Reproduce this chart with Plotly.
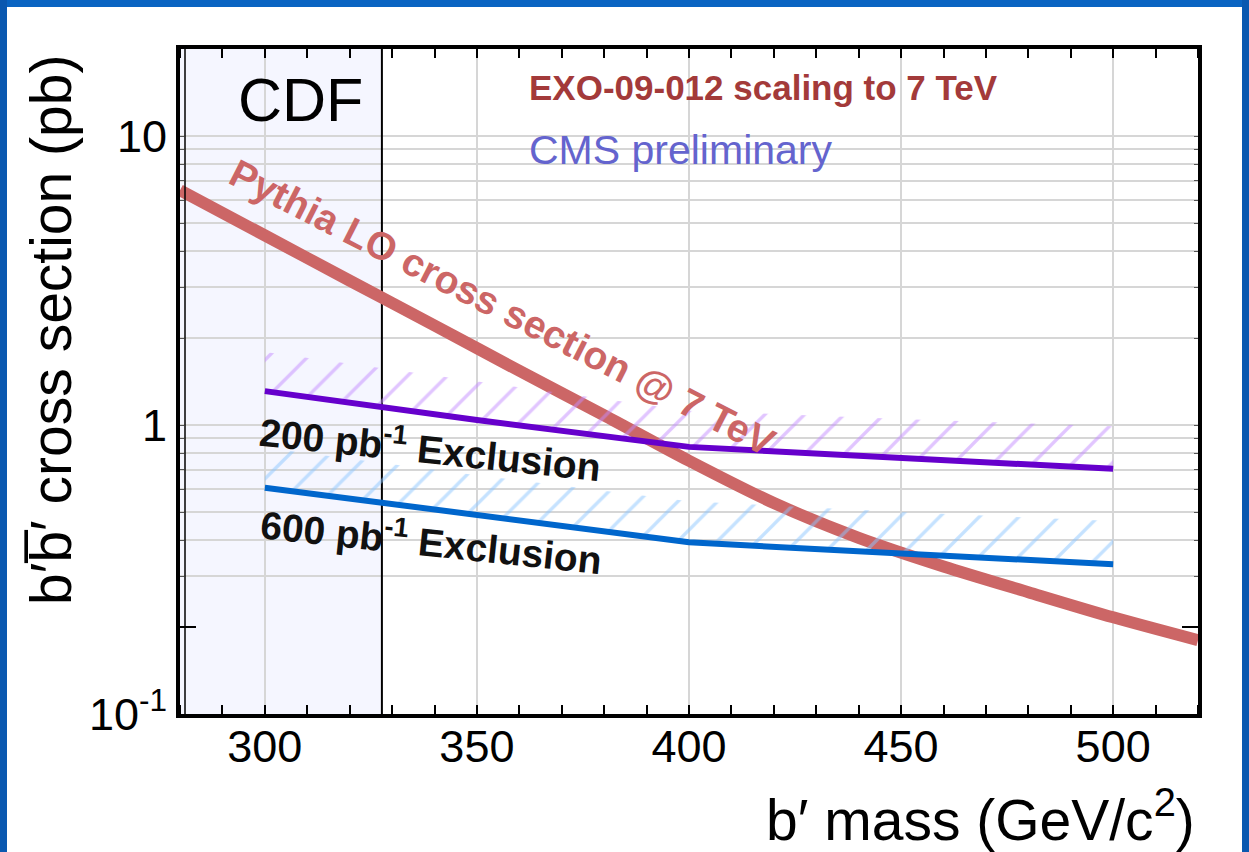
import numpy as np
import plotly.graph_objects as go

# ---------------- data ----------------
mass_pythia = [280, 300, 320, 340, 360, 380, 400, 420, 440, 460, 480, 500, 520]
xsec_pythia = [6.49, 4.53, 3.16, 2.21, 1.54, 1.08, 0.752, 0.537, 0.407, 0.324, 0.264, 0.216, 0.180]

mass_excl = [300, 350, 400, 450, 500]
xsec_200 = [1.31, 1.04, 0.84, 0.77, 0.705]
xsec_200_band = [1.79, 1.42, 1.12, 1.05, 0.99]
xsec_600 = [0.607, 0.49, 0.393, 0.359, 0.33]
xsec_600_band = [0.835, 0.67, 0.545, 0.50, 0.465]

cdf_limit = 327.6
x_range = [280, 520]
y_range = [0.1, 20]

x_tick_vals = [300, 350, 400, 450, 500]
y_tick_vals = [0.1, 0.3, 0.4, 0.5, 0.6, 0.7, 0.8, 0.9, 1, 2, 3, 4, 5, 6, 7, 8, 9, 10]
y_tick_labels = {0.1: "10<sup>-1</sup>", 1: "1", 10: "10"}

# ---------------- styles ----------------
RED = "#CC6666"
PURPLE = "#6600CC"
BLUE = "#0066CC"
HATCH_P = "#C48CFF"
HATCH_B = "#8CC6FF"
FONT = "Liberation Sans, Arial, sans-serif"

fig = go.Figure()

# CDF excluded-region boundary line
fig.add_trace(go.Scatter(x=[cdf_limit, cdf_limit], y=y_range, mode="lines",
                         line=dict(color="black", width=2), hoverinfo="skip", showlegend=False))

# Pythia LO cross section
fig.add_trace(go.Scatter(x=mass_pythia, y=xsec_pythia, mode="lines",
                         line=dict(color=RED, width=12, shape="spline", smoothing=0.8),
                         showlegend=False))

# 200 pb-1 exclusion with hatch band
fig.add_trace(go.Scatter(x=mass_excl, y=xsec_200_band, mode="lines",
                         line=dict(width=0, color="rgba(0,0,0,0)"), showlegend=False, hoverinfo="skip"))
fig.add_trace(go.Scatter(x=mass_excl, y=xsec_200, mode="lines", fill="tonexty",
                         fillcolor="rgba(0,0,0,0)",
                         fillpattern=dict(shape="/", size=28, solidity=0.12, fgcolor=HATCH_P,
                                          bgcolor="rgba(0,0,0,0)"),
                         line=dict(color=PURPLE, width=6), showlegend=False))

# 600 pb-1 exclusion with hatch band
fig.add_trace(go.Scatter(x=mass_excl, y=xsec_600_band, mode="lines",
                         line=dict(width=0, color="rgba(0,0,0,0)"), showlegend=False, hoverinfo="skip"))
fig.add_trace(go.Scatter(x=mass_excl, y=xsec_600, mode="lines", fill="tonexty",
                         fillcolor="rgba(0,0,0,0)",
                         fillpattern=dict(shape="/", size=28, solidity=0.12, fgcolor=HATCH_B,
                                          bgcolor="rgba(0,0,0,0)"),
                         line=dict(color=BLUE, width=6), showlegend=False))

# ---------------- layout geometry ----------------
L, R, T, B = 180, 51, 49, 138
W, H = 1249, 852
pw, ph = W - L - R, H - T - B


def px2paper_x(px):
    return (px - L) / pw


def px2paper_y(py):
    return (H - B - py) / ph


ylog0, ylog1 = np.log10(y_range[0]), np.log10(y_range[1])
y02 = (np.log10(0.2) - ylog0) / (ylog1 - ylog0)

shapes = [
    # CDF shaded region
    dict(type="rect", xref="x", yref="paper", x0=x_range[0], x1=cdf_limit, y0=0, y1=1,
         fillcolor="#F5F6FF", line=dict(width=0), layer="below"),
    # inner thin left line (double border)
    dict(type="line", xref="paper", yref="paper", x0=px2paper_x(185), x1=px2paper_x(185), y0=0, y1=1,
         line=dict(color="black", width=1.5)),
    # long ticks at 0.2
    dict(type="line", xref="paper", yref="paper", x0=0, x1=px2paper_x(196), y0=y02, y1=y02,
         line=dict(color="black", width=2)),
    dict(type="line", xref="paper", yref="paper", x0=1, x1=px2paper_x(1182), y0=y02, y1=y02,
         line=dict(color="black", width=2)),
    # blue slide frame
    dict(type="rect", xref="paper", yref="paper", x0=px2paper_x(0), x1=px2paper_x(W),
         y0=px2paper_y(7), y1=px2paper_y(0), fillcolor="#0A64C2", line=dict(width=0), layer="below"),
    dict(type="rect", xref="paper", yref="paper", x0=px2paper_x(0), x1=px2paper_x(7),
         y0=px2paper_y(H), y1=px2paper_y(0), fillcolor="#0A58B0", line=dict(width=0), layer="below"),
    dict(type="rect", xref="paper", yref="paper", x0=px2paper_x(1242), x1=px2paper_x(W),
         y0=px2paper_y(H), y1=px2paper_y(0), fillcolor="#0A58B0", line=dict(width=0), layer="below"),
]

annotations = [
    dict(text="CDF", x=308.3, y=np.log10(13.3), xref="x", yref="y", showarrow=False,
         xanchor="center", yanchor="middle",
         font=dict(family=FONT, size=61, color="black")),
    dict(text="<b>EXO-09-012 scaling to 7 TeV</b>", x=361.8, y=np.log10(14.7), xref="x", yref="y",
         xanchor="left", yanchor="middle", showarrow=False,
         font=dict(family=FONT, size=35, color="#A33A3A")),
    dict(text="CMS preliminary", x=361.8, y=np.log10(8.95), xref="x", yref="y",
         xanchor="left", yanchor="middle", showarrow=False,
         font=dict(family=FONT, size=41, color="#6464CE")),
    dict(text="<b>Pythia LO cross section @ 7 TeV</b>", x=356, y=np.log10(2.56), xref="x", yref="y",
         xanchor="center", yanchor="middle", textangle=27, showarrow=False,
         font=dict(family=FONT, size=39, color=RED)),
    dict(text="<b>200 pb<sup>-1</sup> Exclusion</b>", x=339, y=np.log10(0.843), xref="x", yref="y",
         xanchor="center", yanchor="middle", textangle=6, showarrow=False,
         font=dict(family=FONT, size=39, color="#111111")),
    dict(text="<b>600 pb<sup>-1</sup> Exclusion</b>", x=339.4, y=np.log10(0.402), xref="x", yref="y",
         xanchor="center", yanchor="middle", textangle=6, showarrow=False,
         font=dict(family=FONT, size=39, color="#111111")),
    # axis titles
    dict(text="b\u2032b\u0305\u2032 cross section (pb)", x=px2paper_x(51), y=px2paper_y(330),
         xref="paper", yref="paper", xanchor="center", yanchor="middle", textangle=-90, showarrow=False,
         font=dict(family=FONT, size=57, color="black")),
    dict(text="b\u2032 mass (GeV/c<sup>2</sup>)", x=px2paper_x(1197), y=px2paper_y(816),
         xref="paper", yref="paper", xanchor="right", yanchor="middle", showarrow=False,
         font=dict(family=FONT, size=57, color="black")),
]

fig.update_layout(
    width=W, height=H,
    margin=dict(l=L, r=R, t=T, b=B, pad=0),
    paper_bgcolor="white", plot_bgcolor="white",
    shapes=shapes, annotations=annotations, showlegend=False,
)

fig.update_xaxes(
    range=x_range, tickvals=x_tick_vals, ticks="", showline=True, linewidth=4, linecolor="black",
    mirror="allticks", showgrid=True, gridcolor="#D6D6D6", gridwidth=1.5, zeroline=False,
    tickfont=dict(family=FONT, size=45, color="black"), ticklabelstandoff=-10,
    minor=dict(dtick=10, ticks="inside", ticklen=9, tickwidth=2, tickcolor="black", showgrid=False),
)
fig.update_yaxes(
    type="log", range=[ylog0, ylog1], tickvals=y_tick_vals,
    ticktext=[y_tick_labels.get(v, "") for v in y_tick_vals],
    ticks="inside", ticklen=4, tickwidth=1, tickcolor="#555555",
    showline=True, linewidth=4, linecolor="black", mirror="allticks",
    showgrid=True, gridcolor="#D6D6D6", gridwidth=1.5, zeroline=False,
    tickfont=dict(family=FONT, size=45, color="black"),
)

fig.write_html("out.html")
